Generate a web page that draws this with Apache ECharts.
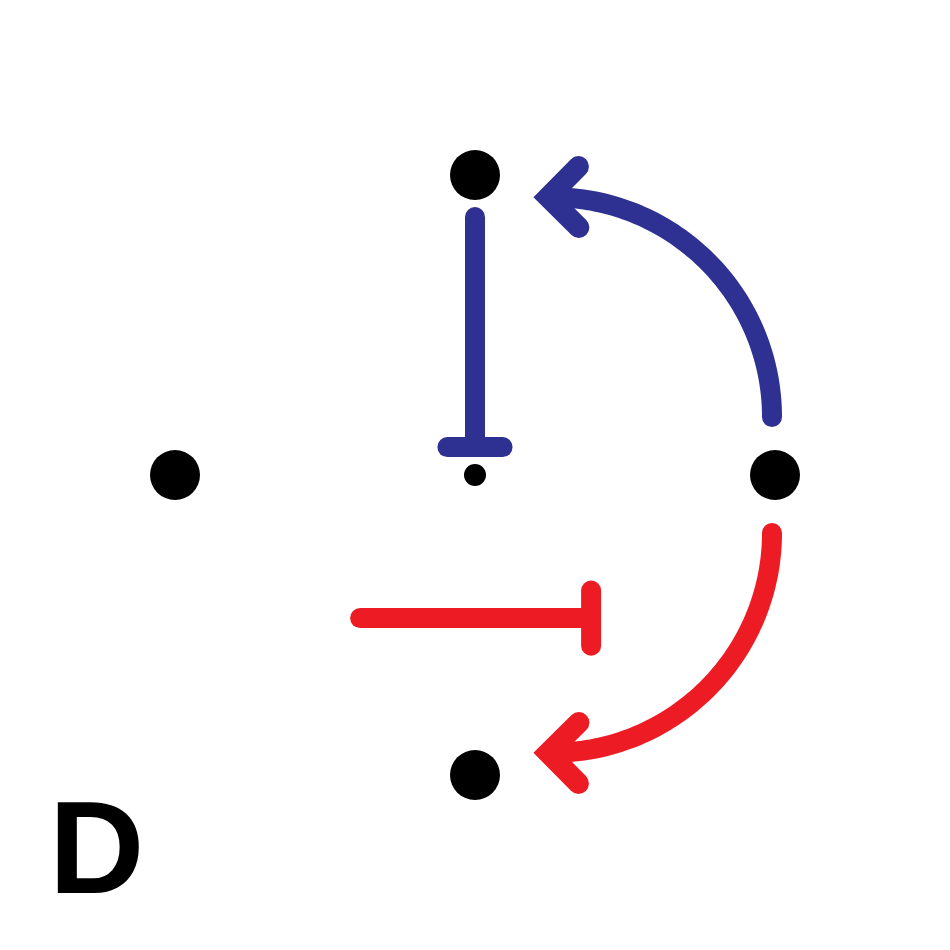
<!DOCTYPE html>
<html><head><meta charset="utf-8">
<script src="https://cdn.jsdelivr.net/npm/echarts@6/dist/echarts.min.js"></script>
<style>html,body{margin:0;padding:0;background:#fff}#c{width:950px;height:950px}</style>
</head><body><div id="c"></div>
<script>
// Node positions (unit grid, y up)
const bigNodes = [[0, 1], [-1, 0], [1, 0], [0, -1]];
const smallNodes = [[0, 0]];
// Inhibition edges: [x0, y0, x1, y1, barHalf]
const inhibitions = [
  [0, 0.86, 0, 0.093, 0.092],
  [-0.383, -0.477, 0.387, -0.477, 0.092]
];
const inhibitionColors = ['#2E3192', '#ED1C24'];
// Activation arcs: [cx, cy, r, startAngle, endAngle]
const arcs = [
  [0.257, 0.193, 0.733, 0, 91],
  [0.257, -0.193, 0.733, 0, -91]
];
const arcColors = ['#2E3192', '#ED1C24'];
const panelLabel = 'D';

const half = 475 / 300;
const chart = echarts.init(document.getElementById('c'));

function renderArc(params, api) {
  const cx = api.value(0), cy = api.value(1), r = api.value(2), a0 = api.value(3), a1 = api.value(4);
  const n = 80, pts = [];
  for (let i = 0; i <= n; i++) {
    const a = (a0 + (a1 - a0) * i / n) * Math.PI / 180;
    pts.push(api.coord([cx + r * Math.cos(a), cy + r * Math.sin(a)]));
  }
  const p = pts[n], q = pts[n - 1];
  let dx = p[0] - q[0], dy = p[1] - q[1];
  const len = Math.hypot(dx, dy); dx /= len; dy /= len;
  const L = 43, c = Math.SQRT1_2;
  const bx = -dx, by = -dy;
  const arm1 = [p[0] + L * (bx * c - by * c), p[1] + L * (bx * c + by * c)];
  const arm2 = [p[0] + L * (bx * c + by * c), p[1] + L * (-bx * c + by * c)];
  const color = api.visual('color');
  return {
    type: 'group',
    children: [
      { type: 'polyline', shape: { points: pts }, style: { stroke: color, lineWidth: 20, lineCap: 'round', fill: null } },
      { type: 'polyline', shape: { points: [arm1, p, arm2] }, style: { stroke: color, lineWidth: 21, lineCap: 'round', lineJoin: 'miter', miterLimit: 10, fill: null } }
    ]
  };
}

function renderInhib(params, api) {
  const p0 = api.coord([api.value(0), api.value(1)]);
  const p1 = api.coord([api.value(2), api.value(3)]);
  const h = api.size([api.value(4), api.value(4)])[0];
  let dx = p1[0] - p0[0], dy = p1[1] - p0[1];
  const len = Math.hypot(dx, dy); dx /= len; dy /= len;
  const px = -dy, py = dx;
  const color = api.visual('color');
  const st = { stroke: color, lineWidth: 20, lineCap: 'round' };
  return {
    type: 'group',
    children: [
      { type: 'line', shape: { x1: p0[0], y1: p0[1], x2: p1[0], y2: p1[1] }, style: st },
      { type: 'line', shape: { x1: p1[0] + px * h, y1: p1[1] + py * h, x2: p1[0] - px * h, y2: p1[1] - py * h }, style: st }
    ]
  };
}

chart.setOption({
  animation: false,
  backgroundColor: '#fff',
  title: {
    text: panelLabel, left: 44, top: 786,
    textStyle: { fontSize: 132, fontWeight: 'bold', color: '#000', fontFamily: 'Liberation Sans' }
  },
  grid: { left: 0, right: 0, top: 0, bottom: 0 },
  xAxis: { type: 'value', min: -half, max: half, show: false },
  yAxis: { type: 'value', min: -half, max: half, show: false },
  series: [
    {
      type: 'custom', renderItem: renderArc, encode: { x: 0, y: 1 },
      data: arcs.map((a, i) => ({ value: a, itemStyle: { color: arcColors[i] } }))
    },
    {
      type: 'custom', renderItem: renderInhib, encode: { x: [0, 2], y: [1, 3] },
      data: inhibitions.map((a, i) => ({ value: a, itemStyle: { color: inhibitionColors[i] } }))
    },
    { type: 'scatter', data: bigNodes, symbolSize: 50, itemStyle: { color: '#000', opacity: 1 } },
    { type: 'scatter', data: smallNodes, symbolSize: 22, itemStyle: { color: '#000', opacity: 1 } }
  ]
});
</script></body></html>
